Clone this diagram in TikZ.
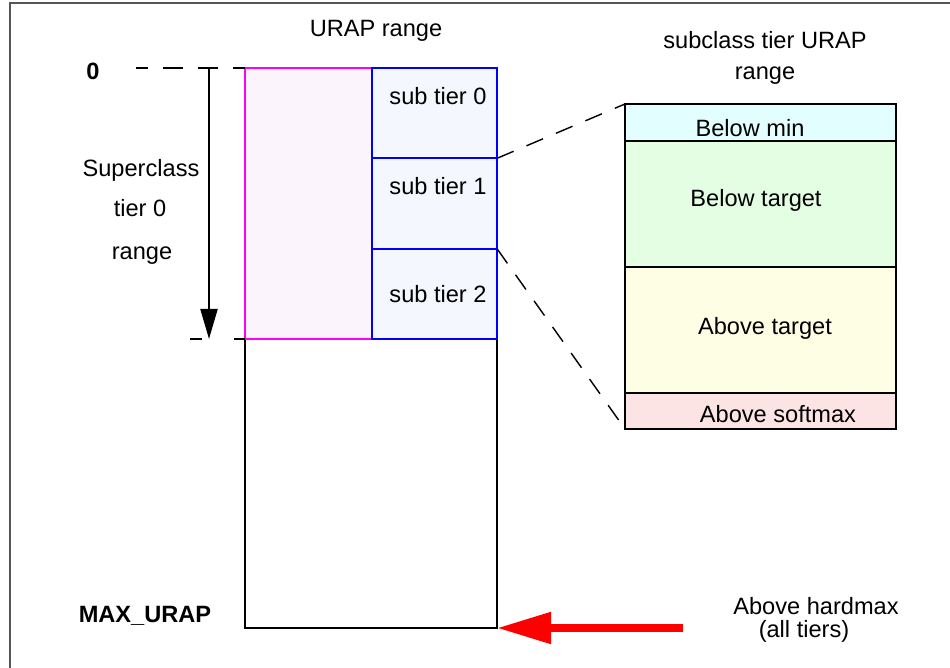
\documentclass[tikz,border=0pt]{standalone}
\usepackage{fontspec}
\setmainfont{Liberation Sans}
\usetikzlibrary{positioning,arrows.meta}
\definecolor{tierpink}{HTML}{FCF4FC}
\definecolor{tiermagenta}{HTML}{FF00FF}
\definecolor{tierblue}{HTML}{F5F7FE}
\definecolor{bandcyan}{HTML}{E2FEFE}
\definecolor{bandgreen}{HTML}{E4FEE4}
\definecolor{bandyellow}{HTML}{FEFEE4}
\definecolor{bandred}{HTML}{FDE4E4}
\definecolor{framegray}{HTML}{555555}
\newcommand{\tierHeight}{45.17pt}
\newcommand{\labelSize}{\fontsize{11.8}{14}\selectfont}

\begin{document}
\begin{tikzpicture}[x=0.5pt, y=-0.5pt, font=\labelSize]
  \tikzset{box/.style={draw, line width=1pt, inner sep=0pt, outer sep=0pt, anchor=north west},
    subtier/.style={box, draw=blue, fill=tierblue, minimum width=62.5pt, minimum height=\tierHeight},
    band/.style={box, minimum width=135.5pt},
    txt/.style={anchor=base, inner sep=0pt},
    guide/.style={line width=0.7pt, dash pattern=on 9pt off 7pt}}
  \useasboundingbox (0,0) rectangle (950,668);
  \draw[framegray, line width=1pt] (10,668) -- (10,3) -- (950,3);

  \node[box, minimum width=126pt, minimum height=280pt] (urap) at (245,68) {};
  \node[box, draw=tiermagenta, fill=tierpink, minimum width=63.5pt, minimum height=135.5pt] (super) at (245,68) {};
  \node[subtier] (sub-0) at (372,68) {};
  \node[subtier, below=0pt of sub-0] (sub-1) {};
  \node[subtier, below=0pt of sub-1] (sub-2) {};

  \node[band, fill=bandcyan, minimum height=18.5pt] (band-0) at (625,104) {};
  \node[band, fill=bandgreen, minimum height=63pt, below=0pt of band-0] (band-1) {};
  \node[band, fill=bandyellow, minimum height=63pt, below=0pt of band-1] (band-2) {};
  \node[band, fill=bandred, minimum height=18pt, below=0pt of band-2] (band-3) {};

  \coordinate (zero-end) at (136,68);
  \coordinate (tier-end) at (190,339);
  \coordinate (range-top) at (209,68);
  \coordinate (range-bottom) at (209,339);
  \coordinate (hardmax-tail) at (683,628);

  \draw[line width=0.8pt, dash pattern=on 10pt off 7.5pt, dash phase=4pt] (zero-end) -- (urap.north west);
  \draw[line width=0.8pt, dash pattern=on 6pt off 16pt] (tier-end) -- (super.south west);
  \draw[line width=1pt, -{Triangle[width=8.5pt,length=15pt]}] (range-top) -- (range-bottom);
  \draw[guide] (sub-0.south east) -- (band-0.north west);
  \draw[guide] (sub-1.south east) -- (band-3.south west);
  \draw[red, line width=4pt, -{Triangle[width=15pt,length=27pt]}] (hardmax-tail) -- (urap.south east);

  \node[txt] (urap-title) at (376,37) {URAP range};
  \node[txt] (detail-title) at (765,49) {subclass tier URAP};
  \node[txt] (detail-range) at (765,80) {range};
  \node[txt, font=\labelSize\bfseries] (zero) at (93,80) {0};
  \node[txt] (super-1) at (141,177) {Superclass};
  \node[txt] (super-2) at (140,217) {tier 0};
  \node[txt] (super-3) at (142,260) {range};
  \node[txt] (sub-0-text) at (438,105) {sub tier 0};
  \node[txt] (sub-1-text) at (438,195) {sub tier 1};
  \node[txt] (sub-2-text) at (438,303) {sub tier 2};
  \node[txt] (band-0-text) at (750,137) {Below min};
  \node[txt] (band-1-text) at (756,207) {Below target};
  \node[txt] (band-2-text) at (765,335) {Above target};
  \node[txt] (band-3-text) at (778,423) {Above softmax};
  \node[txt, font=\labelSize\bfseries] (max-urap) at (145,623) {MAX\_URAP};
  \node[txt] (hardmax-1) at (816,615) {Above hardmax};
  \node[txt] (hardmax-2) at (804,638) {(all tiers)};
\end{tikzpicture}
\end{document}
